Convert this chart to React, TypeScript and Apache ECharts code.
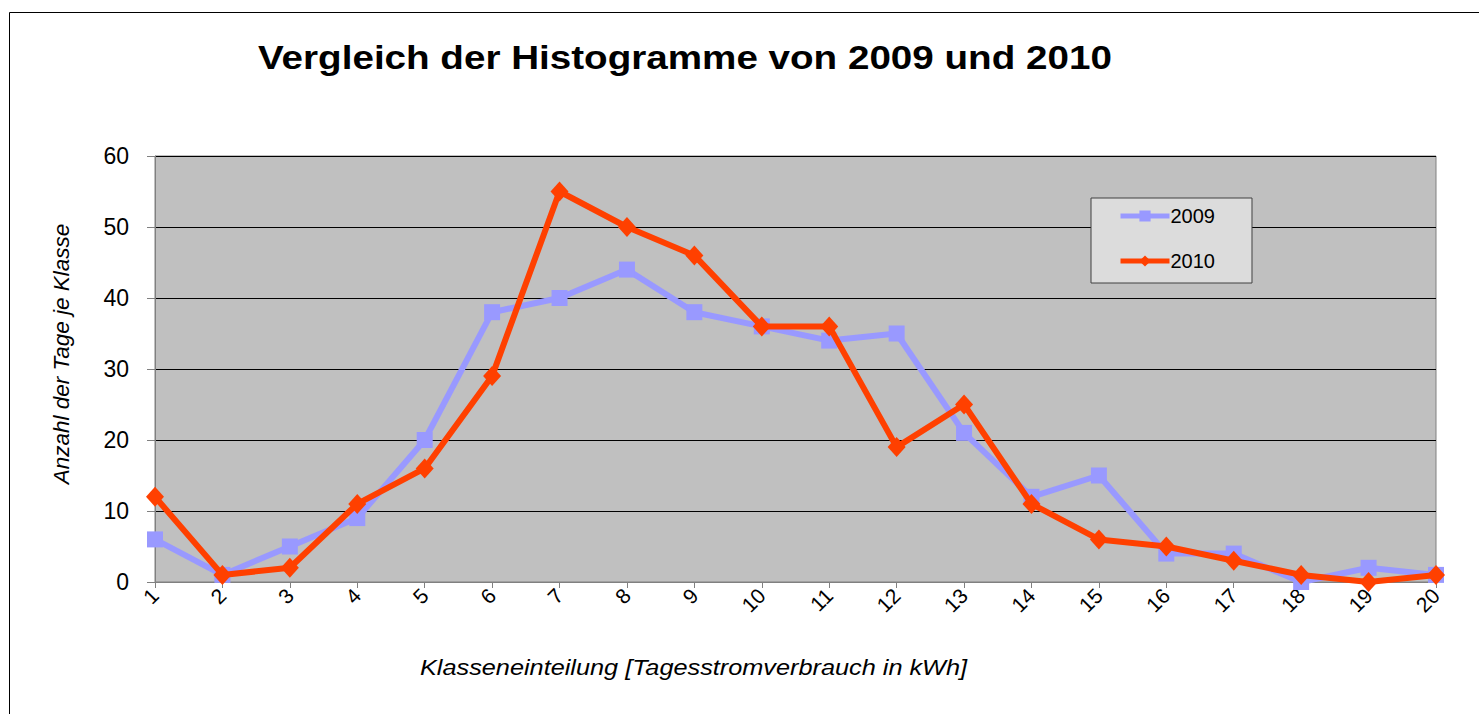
import React, { useEffect, useRef } from "react";
import * as echarts from "echarts";

const categories = ["1","2","3","4","5","6","7","8","9","10","11","12","13","14","15","16","17","18","19","20"];
const series2009 = [6, 1, 5, 9, 20, 38, 40, 44, 38, 36, 34, 35, 21, 12, 15, 4, 4, 0, 2, 1];
const series2010 = [12, 1, 2, 11, 16, 29, 55, 50, 46, 36, 36, 19, 25, 11, 6, 5, 3, 1, 0, 1];
const titleText = "Vergleich der Histogramme von 2009 und 2010";
const yAxisTitle = "Anzahl der Tage je Klasse";
const xAxisTitle = "Klasseneinteilung [Tagesstromverbrauch in kWh]";

export default function App() {
  const ref = useRef<HTMLDivElement>(null);
  useEffect(() => {
    document.body.style.margin = "0";
    const chart = echarts.init(ref.current!, null, { renderer: "svg" });
    const font = "Liberation Sans, Arial, sans-serif";
    chart.setOption({
      animation: false,
      textStyle: { fontFamily: font },
      graphic: [
        {
          type: "rect",
          shape: { x: 9.5, y: 12.5, width: 1500, height: 750 },
          style: { fill: "none", stroke: "#000", lineWidth: 1 },
          silent: true,
        },
        {
          type: "text",
          x: 258,
          y: 58,
          scaleX: 1.17,
          style: {
            text: titleText,
            fontSize: 33,
            fontWeight: "bold",
            fontFamily: font,
            fill: "#000",
            align: "left",
            verticalAlign: "middle",
          },
          silent: true,
        },
        {
          type: "text",
          x: 420,
          y: 668,
          scaleX: 1.15,
          style: {
            text: xAxisTitle,
            fontSize: 22,
            fontStyle: "italic",
            fontFamily: font,
            fill: "#000",
            align: "left",
            verticalAlign: "middle",
          },
          silent: true,
        },
        {
          type: "text",
          x: 61,
          y: 354,
          rotation: Math.PI / 2,
          style: {
            text: yAxisTitle,
            fontSize: 22.5,
            fontStyle: "italic",
            fontFamily: font,
            fill: "#000",
            align: "center",
            verticalAlign: "middle",
          },
          silent: true,
        },
      ],
      legend: {
        left: 1091,
        top: 198,
        orient: "vertical",
        padding: [8, 37, 12, 27],
        itemGap: 25,
        itemWidth: 49,
        itemHeight: 14,
        backgroundColor: "#DCDCDC",
        borderColor: "#404040",
        borderWidth: 1,
        lineStyle: { width: 5 },
        textStyle: { fontSize: 20, color: "#000", fontFamily: font, padding: [0, 0, 0, -4] },
        data: ["2009", "2010"],
      },
      grid: { left: 155, top: 156, right: 43, bottom: 132, show: true, backgroundColor: "#C0C0C0", borderColor: "#808080", borderWidth: 1 },
      xAxis: {
        type: "category",
        data: categories,
        boundaryGap: false,
        axisLine: { lineStyle: { color: "#808080", width: 1 } },
        axisTick: { show: true, alignWithLabel: true, length: 6, lineStyle: { color: "#808080" } },
        axisLabel: { rotate: 45, fontSize: 21, color: "#000", margin: 10, fontFamily: font },
        splitLine: { show: false },
      },
      yAxis: {
        type: "value",
        min: 0,
        max: 60,
        interval: 10,
        axisLine: { show: true, lineStyle: { color: "#808080", width: 1 } },
        axisTick: { show: true, length: 8, lineStyle: { color: "#808080" } },
        axisLabel: { fontSize: 23, color: "#000", margin: 26, fontFamily: font },
        splitLine: { lineStyle: { color: "#000", width: 1 } },
      },
      series: [
        {
          name: "2009",
          type: "line",
          data: series2009,
          color: "#9999FF",
          lineStyle: { width: 6, color: "#9999FF" },
          symbol: "rect",
          symbolSize: 16,
          itemStyle: { color: "#9999FF" },
          z: 2,
        },
        {
          name: "2010",
          type: "line",
          data: series2010,
          color: "#FF4000",
          lineStyle: { width: 6, color: "#FF4000" },
          symbol: "diamond",
          symbolSize: [18, 20],
          itemStyle: { color: "#FF4000" },
          z: 3,
        },
      ],
    });
    return () => chart.dispose();
  }, []);
  return <div ref={ref} style={{ width: 1479, height: 714, overflow: "hidden" }} />;
}
